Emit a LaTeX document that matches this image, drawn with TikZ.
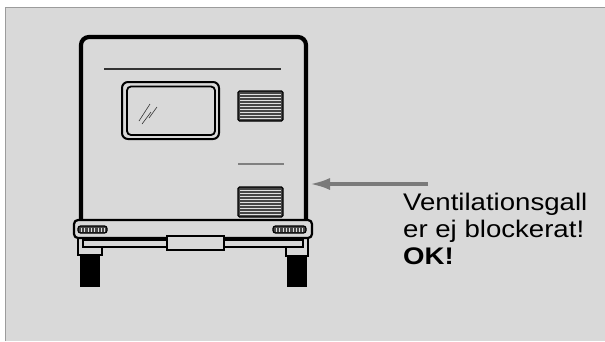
\documentclass[tikz,border=0pt]{standalone}
\usepackage{fontspec}
\setmainfont{Liberation Sans}[FakeStretch=1.15]
\usetikzlibrary{arrows.meta}
\definecolor{cPanel}{HTML}{D9D9D9}
\definecolor{cEdge}{HTML}{9C9C9C}
\definecolor{cArrow}{HTML}{7A7A7A}
\definecolor{cSlat}{HTML}{454545}
\definecolor{cTrim}{HTML}{808080}

\begin{document}
\begin{tikzpicture}[x=1pt, y=-1pt,
  grille/.style={draw=black, fill=cSlat, line width=1.2pt, rounded corners=1.5pt},
  slat/.style={white!75!gray, line width=0.6pt},
  frame/.style={draw=black, line width=2pt, fill=cPanel},
  pointer/.style={cArrow, line width=4pt, -{Latex[length=21pt, width=12pt]}}]
  \useasboundingbox (0,0) rectangle (605,341);
  \fill[cPanel] (5,7) rectangle (605,341);
  \draw[cEdge, line width=1pt] (5,341) -- (5,7) -- (605,7);
  % body and roof trim
  \draw[line width=4.2pt, rounded corners=8pt] (81,221) -- (81,37) -- (306,37) -- (306,221);
  \draw[black!80, line width=1.4pt] (104,69) -- (281,69);
  % window with glass marks
  \draw[line width=2pt, rounded corners=6pt] (122,82) rectangle (219,139);
  \draw[line width=1.8pt, rounded corners=4pt] (127,86.5) rectangle (215,135);
  \draw[black!80, line width=0.6pt] (139,121) -- (150,104) (142,124) -- (151,112) (149,118) -- (157,107);
  % vents
  \foreach \y in {91,187}{
    \draw[grille] (238,\y) rectangle (283,\y+30);
    \foreach \k in {1,...,9} \draw[slat] (240,\y+3*\k) -- (281,\y+3*\k);}
  \draw[cTrim, line width=1.6pt] (238,164) -- (284,164);
  % bumper with lights
  \draw[frame, line width=2.2pt, rounded corners=4pt] (74,220) rectangle (312,238);
  \foreach \xa/\xb/\n in {78/107/8,273/306/9}{
    \draw[grille, rounded corners=2.5pt] (\xa,226) rectangle (\xb,233);
    \foreach \k in {1,...,\n} \draw[slat] (\xa+3.3*\k,227.5) -- (\xa+3.3*\k,231.5);}
  % chassis bar, brackets and plate
  \draw[frame] (83,239.5) rectangle (303,247);
  \draw[line width=2pt] (78,238) -- (78,255) -- (102,255) -- (102,247);
  \draw[line width=2pt] (308,238) -- (308,256) -- (286,256) -- (286,247);
  \draw[frame] (167,236) rectangle (224,249.5);
  \fill (80,255) rectangle (100,287);
  \fill (287,256) rectangle (307,287);
  % note
  \coordinate (tail) at (428,184);
  \coordinate (side) at (309,184);
  \draw[pointer] (tail) -- (side);
  \node[anchor=north west, inner sep=0pt, align=left,
        font=\fontsize{24}{27}\selectfont] (note) at (403,193)
    {Ventilationsgall\\er ej blockerat!\\\textbf{OK!}};
\end{tikzpicture}
\end{document}
